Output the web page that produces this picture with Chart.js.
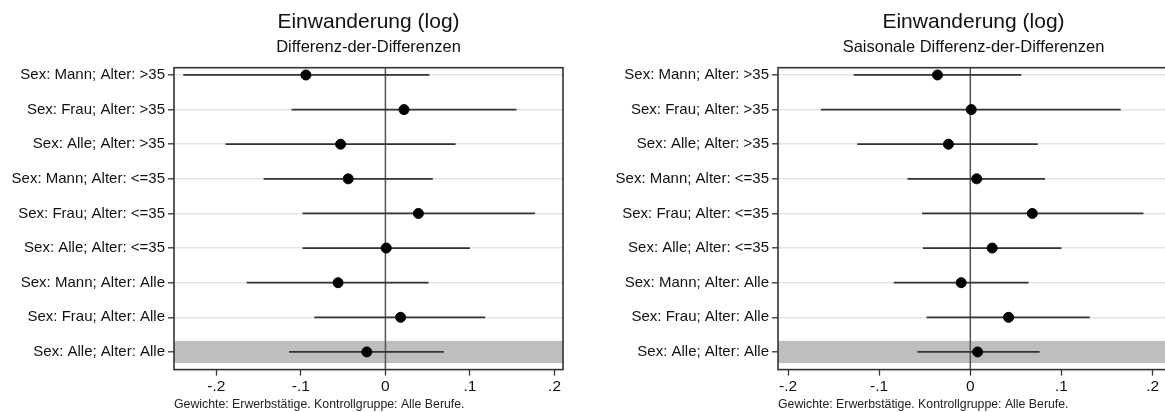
<!DOCTYPE html>
<html><head><meta charset="utf-8">
<script src="https://cdn.jsdelivr.net/npm/chart.js@4.4.1/dist/chart.umd.min.js"></script>
<style>
html,body{margin:0;padding:0;background:#fff;overflow:hidden;width:1165px;height:412px;position:relative;}
#c1{position:absolute;left:0;top:0;width:580px;height:412px;}
#c2{position:absolute;left:585px;top:0;width:590px;height:412px;}
</style></head><body>
<div id="c1"><canvas id="a"></canvas></div>
<div id="c2"><canvas id="b"></canvas></div>
<script>
const categories = [
  'Sex: Mann; Alter: >35',
  'Sex: Frau; Alter: >35',
  'Sex: Alle; Alter: >35',
  'Sex: Mann; Alter: <=35',
  'Sex: Frau; Alter: <=35',
  'Sex: Alle; Alter: <=35',
  'Sex: Mann; Alter: Alle',
  'Sex: Frau; Alter: Alle',
  'Sex: Alle; Alter: Alle'
];
const leftEstimate = [-0.094, 0.022, -0.053, -0.044, 0.039, 0.001, -0.056, 0.018, -0.022];
const leftLower    = [-0.239, -0.111, -0.189, -0.144, -0.098, -0.098, -0.164, -0.084, -0.114];
const leftUpper    = [0.052, 0.155, 0.083, 0.056, 0.177, 0.100, 0.051, 0.118, 0.069];
const rightEstimate = [-0.036, 0.001, -0.024, 0.007, 0.068, 0.024, -0.010, 0.042, 0.008];
const rightLower    = [-0.128, -0.164, -0.124, -0.069, -0.053, -0.052, -0.084, -0.048, -0.058];
const rightUpper    = [0.056, 0.165, 0.074, 0.082, 0.190, 0.100, 0.064, 0.131, 0.076];
const xTickValues = [-0.2, -0.1, 0, 0.1, 0.2];
const xTickLabels = ['-.2', '-.1', '0', '.1', '.2'];
const titleText = 'Einwanderung (log)';
const leftSubtitle = 'Differenz-der-Differenzen';
const rightSubtitle = 'Saisonale Differenz-der-Differenzen';
const footnote = 'Gewichte: Erwerbstätige. Kontrollgruppe: Alle Berufe.';
const highlightRow = 'Sex: Alle; Alter: Alle';

const FONT = "'Liberation Sans', Arial, sans-serif";

const framePlugin = {
  id: 'frame',
  beforeDatasetsDraw(chart) {
    const {ctx, chartArea: a, scales: {x, y}} = chart;
    const idx = categories.indexOf(highlightRow) + 1;
    const t = y.getPixelForValue(idx - 0.32), b = y.getPixelForValue(idx + 0.32);
    ctx.save();
    ctx.fillStyle = '#bebebe';
    ctx.fillRect(a.left, Math.min(t, b), a.right - a.left, Math.abs(b - t));
    const x0 = x.getPixelForValue(0);
    ctx.strokeStyle = '#555';
    ctx.lineWidth = 1.5;
    ctx.beginPath(); ctx.moveTo(x0, a.top); ctx.lineTo(x0, a.bottom); ctx.stroke();
    ctx.restore();
  },
  afterDatasetsDraw(chart) {
    const {ctx, chartArea: a} = chart;
    ctx.save();
    ctx.strokeStyle = '#333';
    ctx.lineWidth = 1.6;
    ctx.strokeRect(a.left, a.top, a.right - a.left, a.bottom - a.top);
    ctx.restore();
  }
};

function makeChart(id, subtitle, est, lo, hi, xMin, xMax, yWidth, padRight) {
  const datasets = [{
    data: est.map((v, i) => ({x: v, y: i + 1})),
    pointRadius: 5, pointHoverRadius: 5,
    backgroundColor: '#000', borderColor: '#000', showLine: false
  }];
  categories.forEach((c, i) => {
    datasets.push({
      data: [{x: lo[i], y: i + 1}, {x: hi[i], y: i + 1}],
      showLine: true, pointRadius: 0, borderColor: '#333', borderWidth: 1.8
    });
  });
  return new Chart(document.getElementById(id), {
    type: 'scatter',
    data: {datasets},
    plugins: [framePlugin],
    options: {
      responsive: true, maintainAspectRatio: false, animation: false,
      layout: {padding: {left: 0, right: padRight, top: 0, bottom: 0}},
      plugins: {
        legend: {display: false}, tooltip: {enabled: false},
        title: {display: true, text: titleText, fullSize: false, color: '#111',
          font: {family: FONT, size: 21, weight: 'normal'}, padding: {top: 10, bottom: 2}},
        subtitle: {display: true, text: subtitle, fullSize: false, color: '#111',
          font: {family: FONT, size: 16.5, weight: 'normal'}, padding: {top: 0, bottom: 10.7}}
      },
      scales: {
        x: {
          type: 'linear', min: xMin, max: xMax,
          afterBuildTicks: ax => { ax.ticks = xTickValues.map(v => ({value: v})); },
          afterFit: ax => { ax.height = 42.4; },
          ticks: {callback: (v, i) => xTickLabels[i], color: '#111', font: {family: FONT, size: 15.5}, padding: 2, maxRotation: 0},
          grid: {drawOnChartArea: false, tickLength: 6, tickColor: '#333', tickWidth: 1.3},
          border: {display: false},
          title: {display: true, text: footnote, align: 'start', color: '#222',
            font: {family: FONT, size: 12.3}, padding: {top: 2, bottom: 0}}
        },
        y: {
          type: 'linear', min: 0.79, max: 9.51, reverse: true,
          afterBuildTicks: ax => { ax.ticks = categories.map((c, i) => ({value: i + 1})); },
          afterFit: ax => { ax.width = yWidth; },
          ticks: {callback: v => categories[v - 1], color: '#111', font: {family: FONT, size: 15}, padding: 3},
          grid: {color: '#e4e4e4', lineWidth: 1.6, tickLength: 6, tickColor: '#333', tickWidth: 1.3},
          border: {display: false}
        }
      }
    }
  });
}

makeChart('a', leftSubtitle, leftEstimate, leftLower, leftUpper, -0.25, 0.21, 174, 17);
makeChart('b', rightSubtitle, rightEstimate, rightLower, rightUpper, -0.211, 0.218, 193, 0);
</script>
</body></html>
